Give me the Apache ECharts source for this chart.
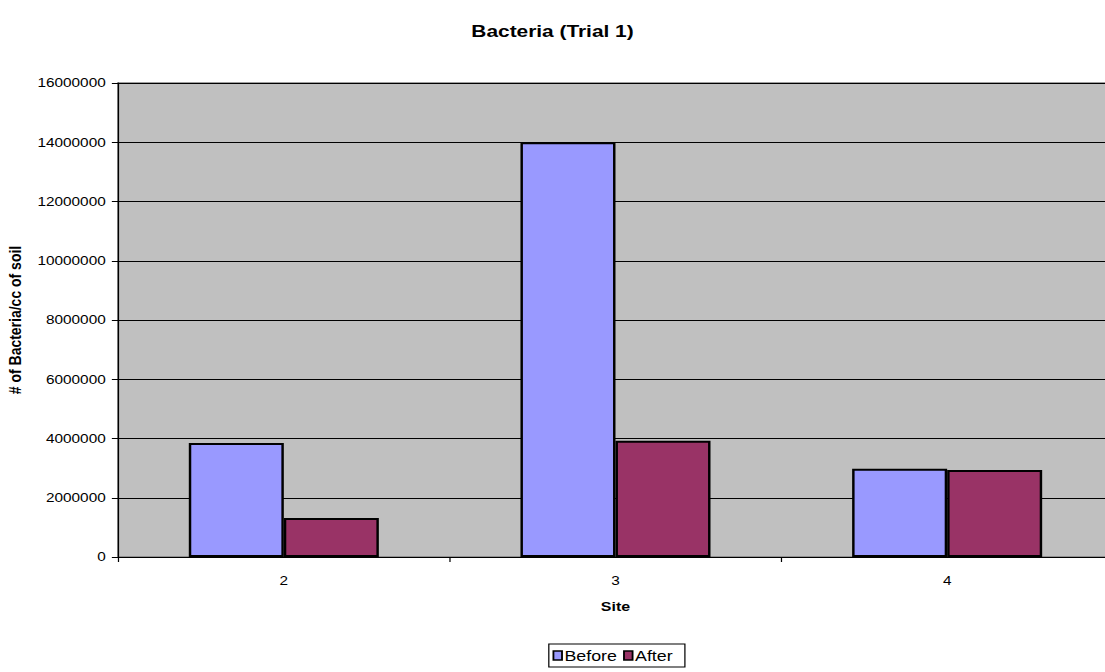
<!DOCTYPE html>
<html>
<head>
<meta charset="utf-8">
<style>
  html, body { margin: 0; padding: 0; background: #ffffff; overflow: hidden; }
  /* the chart is laid out 900px wide and stretched to the 1105px page width */
  #chart { width: 900px; height: 672px; transform: scaleX(1.227778); transform-origin: 0 0; }
</style>
<script src="https://cdn.jsdelivr.net/npm/echarts@6/dist/echarts.min.js"></script>
</head>
<body>
<div id="chart"></div>
<script>
// Bacteria counts per site, before and after
const sites = ['2', '3', '4'];
const beforeValues = [3850000, 14000000, 2980000];
const afterValues = [1320000, 3920000, 2940000];

const chart = echarts.init(document.getElementById('chart'), null, { renderer: 'svg' });
const font = '"Liberation Sans", Arial, sans-serif';

chart.setOption({
  backgroundColor: '#ffffff',
  animation: false,
  textStyle: { fontFamily: font },
  title: {
    text: 'Bacteria (Trial 1)',
    left: 'center',
    top: 18,
    textStyle: { fontFamily: font, fontSize: 17, fontWeight: 'bold', color: '#000' }
  },
  legend: {
    data: [
      { name: 'Before', itemStyle: { borderColor: '#000', borderWidth: 1.5 } },
      { name: 'After', itemStyle: { borderColor: '#000', borderWidth: 1.5 } }
    ],
    icon: 'rect',
    top: 644,
    left: 447,
    itemWidth: 7,
    itemHeight: 9,
    itemGap: 5,
    padding: [4, 10, 4, 3],
    borderColor: '#000',
    borderWidth: 1,
    textStyle: { fontFamily: font, fontSize: 14.5, color: '#000', padding: [0, 0, 0, -3] }
  },
  grid: {
    left: 96.1,
    width: 810.4,
    top: 83,
    height: 474,
    outerBoundsMode: 'none',
    show: true,
    backgroundColor: '#C0C0C0',
    borderColor: '#808080',
    borderWidth: 1.5
  },
  xAxis: {
    type: 'category',
    data: sites,
    name: 'Site',
    nameLocation: 'middle',
    nameGap: 43,
    nameTextStyle: { fontFamily: font, fontSize: 13, fontWeight: 'bold', color: '#000' },
    axisLine: { lineStyle: { color: '#000', width: 1 } },
    axisTick: { show: true, length: 5, lineStyle: { color: '#000' } },
    axisLabel: { fontFamily: font, fontSize: 12.5, color: '#000', margin: 17 }
  },
  yAxis: {
    type: 'value',
    min: 0,
    max: 16000000,
    interval: 2000000,
    name: '# of Bacteria/cc of soil',
    nameLocation: 'middle',
    nameGap: 73,
    nameRotate: 90,
    nameTextStyle: { fontFamily: font, fontSize: 14, fontWeight: 'bold', color: '#000' },
    axisLine: { show: true, lineStyle: { color: '#000', width: 1 } },
    axisTick: { show: true, length: 5, lineStyle: { color: '#000' } },
    axisLabel: {
      fontFamily: font, fontSize: 12.5, color: '#000', margin: 10,
      formatter: (v) => String(v)
    },
    splitLine: { show: true, lineStyle: { color: '#000', width: 1 } }
  },
  series: [
    {
      name: 'Before',
      type: 'bar',
      data: beforeValues,
      barGap: '0%',
      barCategoryGap: '42.7%',
      itemStyle: { color: '#9999FF', borderColor: '#000', borderWidth: 2 }
    },
    {
      name: 'After',
      type: 'bar',
      data: afterValues,
      itemStyle: { color: '#993366', borderColor: '#000', borderWidth: 2 }
    }
  ]
});
</script>
</body>
</html>
